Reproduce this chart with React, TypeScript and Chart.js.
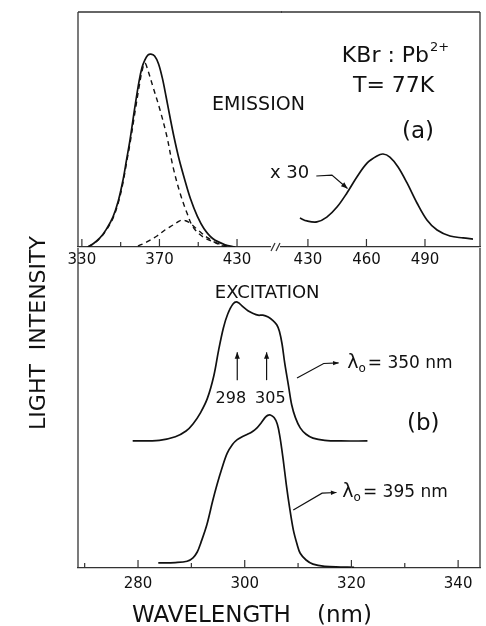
import React, { useEffect, useRef } from 'react';
import { Chart, registerables } from 'chart.js';

Chart.register(...registerables);

const FONT = "'DejaVu Sans', 'Liberation Sans', sans-serif";
const INK = '#111';
const FRAME = '#333';

// ---------- Panel (a): emission, wavelength (nm) vs relative intensity ----------
const EM_TOTAL_X = [333.1, 336, 339.3, 342.5, 346, 348.8, 351.2, 353, 354.8, 357.4, 359.5, 361, 362.5, 364, 365.6, 367.5, 369.5, 371.5, 373.5, 375.5, 377.5, 380, 383, 386, 389.5, 393, 397.6, 403.8, 409];
const EM_TOTAL_Y = [0, 1.8, 4.7, 9, 15.5, 24, 34.7, 45, 55.4, 73, 86, 93, 97, 99.4, 100, 99, 95, 87.5, 77.5, 67, 57, 46, 35, 25, 16, 9.5, 4.3, 1.2, 0];

const EM_BAND1_X = [333.1, 336, 339.3, 342.5, 346, 348.8, 351.2, 353, 354.8, 357.4, 359.5, 361, 362.5, 364, 366.7, 370.3, 373.9, 377, 380.6, 384.2, 387.3, 392.5, 399.7, 404.8];
const EM_BAND1_Y = [0, 1.7, 4.5, 8.6, 14.8, 23, 33.3, 43.5, 53.5, 70, 83, 91, 95.3, 91.7, 82.9, 71, 57, 41.5, 28, 17.6, 10.4, 5.2, 2, 0.5];

const EM_BAND2_X = [358.9, 363.5, 368.7, 372.8, 377, 379.5, 381.6, 383.5, 385.7, 389.9, 395, 401.2, 404.8];
const EM_BAND2_Y = [0.5, 2.6, 5.7, 8.8, 11.4, 13, 14, 13.6, 12.4, 8.8, 4.7, 1, 0];

const EM_X30_X = [425.9, 429.5, 434.6, 439.7, 444.9, 450, 455.1, 460.3, 465.4, 468.5, 472, 476.2, 480.8, 485.9, 491, 496.2, 502.8, 509.5, 514.6];
const EM_X30_Y = [15, 13.5, 13, 15.5, 20.7, 28, 36.3, 43.5, 47.2, 48.2, 46.6, 41.5, 33.2, 22.8, 14, 8.8, 5.7, 4.7, 4.1];

const EM_LEFT_TICKS = [330, 350, 370, 390, 410];
const EM_LEFT_TICK_LABELS = ['330', '', '370', '', '430'];
const EM_RIGHT_TICKS = [430, 460, 490];
const EM_RIGHT_TICK_LABELS = ['430', '460', '490'];

// ---------- Panel (b): excitation spectra ----------
const EX_350_X = [279, 284, 287, 289, 290.3, 291.7, 293, 294.2, 295.1, 296, 296.8, 297.8, 298.6, 299.7, 300.6, 301.4, 302.5, 303.4, 304.4, 305.3, 306, 306.5, 307, 307.5, 308.2, 308.8, 309.5, 310.4, 311.5, 312.8, 315, 318, 323];
const EX_350_Y = [39.7, 39.9, 41, 42.8, 45, 48.5, 53, 60, 68, 75, 79.3, 82.5, 83.1, 81.6, 80.4, 79.7, 79, 79, 78.4, 77.3, 76, 74, 70, 64, 57, 51, 47, 43.8, 41.8, 40.6, 39.9, 39.7, 39.7];

const EX_395_X = [283.8, 287, 289.2, 290.3, 291.1, 291.8, 292.9, 294, 294.8, 295.7, 296.7, 297.7, 298.6, 299.6, 300.5, 301.4, 302.3, 303.1, 303.8, 304.3, 304.8, 305.5, 306.1, 306.6, 307.2, 307.8, 308.4, 309.1, 309.8, 310.4, 311.5, 312.8, 315, 318, 320.5];
const EX_395_Y = [1.6, 1.7, 2.1, 3.2, 5, 8, 13.5, 21, 26, 31, 35.8, 38.6, 40.1, 41.1, 41.8, 42.6, 43.8, 45.4, 47, 47.7, 47.8, 47, 45, 41, 34, 26, 19, 12, 7.5, 4.6, 2.5, 1.2, 0.5, 0.3, 0.2];

const EX_TICKS = [270, 280, 290, 300, 310, 320, 330, 340];
const EX_TICK_LABELS = ['', '280', '', '300', '', '320', '', '340'];
const EX_PEAK_LABELS = ['298', '305'];
const EX_PEAK_LABEL_X = [297.4, 304.8];
const EX_PEAK_ARROW_X = [298.6, 304.1];

// ---------- helpers ----------
const pts = (xs: number[], ys: number[]) => xs.map((x, i) => ({ x, y: ys[i] }));

const lineDs = (data: any[], dash: number[] = [], width = 1.7) => ({
  data,
  borderColor: INK,
  borderWidth: width,
  borderDash: dash,
  pointRadius: 0,
  fill: false,
  tension: 0.35,
});

function seg(ctx: CanvasRenderingContext2D, x1: number, y1: number, x2: number, y2: number) {
  ctx.beginPath();
  ctx.moveTo(x1, y1);
  ctx.lineTo(x2, y2);
  ctx.stroke();
}

function text(ctx: CanvasRenderingContext2D, s: string, x: number, y: number, size: number, align: CanvasTextAlign = 'left') {
  ctx.font = `${size}px ${FONT}`;
  ctx.textAlign = align;
  ctx.textBaseline = 'alphabetic';
  ctx.fillStyle = INK;
  ctx.fillText(s, x, y);
}

function arrow(ctx: CanvasRenderingContext2D, p: [number, number][], head = 7) {
  ctx.strokeStyle = INK;
  ctx.fillStyle = INK;
  ctx.lineWidth = 1.2;
  ctx.beginPath();
  ctx.moveTo(p[0][0], p[0][1]);
  for (let i = 1; i < p.length; i++) ctx.lineTo(p[i][0], p[i][1]);
  ctx.stroke();
  const [x1, y1] = p[p.length - 2];
  const [x2, y2] = p[p.length - 1];
  const a = Math.atan2(y2 - y1, x2 - x1);
  ctx.beginPath();
  ctx.moveTo(x2, y2);
  ctx.lineTo(x2 - head * Math.cos(a - 0.38), y2 - head * Math.sin(a - 0.38));
  ctx.lineTo(x2 - head * Math.cos(a + 0.38), y2 - head * Math.sin(a + 0.38));
  ctx.closePath();
  ctx.fill();
}

function inwardTicks(ctx: CanvasRenderingContext2D, scale: any, ticks: number[], labels: string[], bottom: number) {
  ctx.strokeStyle = FRAME;
  ctx.lineWidth = 1.2;
  ticks.forEach((v, i) => {
    const x = scale.getPixelForValue(v);
    seg(ctx, x, bottom, x, bottom - (labels[i] ? 8 : 5));
  });
}

function xScale(min: number, max: number, ticks: number[], labels: string[], height: number, padding: number) {
  return {
    type: 'linear' as const,
    min,
    max,
    afterBuildTicks: (s: any) => {
      s.ticks = ticks.map((v) => ({ value: v }));
    },
    afterFit: (s: any) => {
      s.height = height;
    },
    grid: { display: false, drawTicks: false },
    border: { display: true, color: FRAME, width: 1.3 },
    ticks: {
      autoSkip: false,
      maxRotation: 0,
      padding,
      color: INK,
      font: { family: FONT, size: 15 },
      callback: (v: any) => {
        const i = ticks.indexOf(Number(v));
        return i >= 0 ? labels[i] : '';
      },
    },
  };
}

const BASE_OPTIONS = {
  animation: false as const,
  responsive: false,
  maintainAspectRatio: false,
  devicePixelRatio: 1,
  events: [] as any[],
  plugins: { legend: { display: false }, tooltip: { enabled: false }, title: { display: false } },
};

const EM_Y_MAX = 121.8;

// ---------- plugins ----------
const panelALeftPlugin = {
  id: 'panelALeft',
  afterDraw(chart: any) {
    const { ctx, chartArea: a, scales } = chart;
    const x = scales.x;
    const y = scales.y;
    ctx.save();
    ctx.strokeStyle = FRAME;
    ctx.lineWidth = 1.3;
    seg(ctx, a.left, a.top, a.left, a.bottom);
    seg(ctx, a.left, a.top, a.right + 12, a.top);
    // axis break
    ctx.lineWidth = 1.2;
    seg(ctx, a.right + 1, a.bottom + 4, a.right + 5, a.bottom - 4);
    seg(ctx, a.right + 6, a.bottom + 4, a.right + 10, a.bottom - 4);
    inwardTicks(ctx, x, EM_LEFT_TICKS, EM_LEFT_TICK_LABELS, a.bottom);
    text(ctx, 'EMISSION', x.getPixelForValue(397.1), y.getPixelForValue(71), 19);
    ctx.restore();
  },
};

const panelARightPlugin = {
  id: 'panelARight',
  afterDraw(chart: any) {
    const { ctx, chartArea: a, scales } = chart;
    const x = scales.x;
    const y = scales.y;
    ctx.save();
    ctx.strokeStyle = FRAME;
    ctx.lineWidth = 1.3;
    seg(ctx, a.left, a.top, a.right, a.top);
    seg(ctx, a.right, a.top, a.right, a.bottom);
    inwardTicks(ctx, x, EM_RIGHT_TICKS, EM_RIGHT_TICK_LABELS, a.bottom);

    // KBr : Pb2+
    const kx = x.getPixelForValue(447.4);
    const ky = y.getPixelForValue(95.9);
    text(ctx, 'KBr : Pb', kx, ky, 22);
    ctx.font = `22px ${FONT}`;
    const w = ctx.measureText('KBr : Pb').width;
    text(ctx, '2+', kx + w + 1, ky - 11, 13);
    text(ctx, 'T= 77K', x.getPixelForValue(453.1), y.getPixelForValue(80.3), 22);
    text(ctx, '(a)', x.getPixelForValue(478.2), y.getPixelForValue(56.5), 23);

    // x 30 label with arrow onto the curve
    text(ctx, 'x 30', x.getPixelForValue(410.5), y.getPixelForValue(35.8), 18);
    arrow(ctx, [
      [x.getPixelForValue(434.3), y.getPixelForValue(36.8)],
      [x.getPixelForValue(442.3), y.getPixelForValue(37.3)],
      [x.getPixelForValue(450.3), y.getPixelForValue(30.3)],
    ]);
    ctx.restore();
  },
};

function lambdaLabel(ctx: CanvasRenderingContext2D, s: string, x0: number, y0: number) {
  text(ctx, 'λ', x0, y0, 19);
  ctx.font = `19px ${FONT}`;
  const w1 = ctx.measureText('λ').width;
  text(ctx, 'o', x0 + w1, y0 + 4, 12);
  ctx.font = `12px ${FONT}`;
  const w2 = ctx.measureText('o').width;
  text(ctx, s, x0 + w1 + w2 + 2, y0, 17);
}

const panelBPlugin = {
  id: 'panelB',
  afterDraw(chart: any) {
    const { ctx, chartArea: a, scales } = chart;
    const x = scales.x;
    const y = scales.y;
    ctx.save();
    ctx.strokeStyle = FRAME;
    ctx.lineWidth = 1.3;
    seg(ctx, a.left, a.top, a.left, a.bottom);
    seg(ctx, a.right, a.top, a.right, a.bottom);
    inwardTicks(ctx, x, EX_TICKS, EX_TICK_LABELS, a.bottom);

    text(ctx, 'EXCITATION', x.getPixelForValue(294.4), y.getPixelForValue(84.4), 18);

    EX_PEAK_ARROW_X.forEach((v) => {
      arrow(ctx, [
        [x.getPixelForValue(v), y.getPixelForValue(58.7)],
        [x.getPixelForValue(v), y.getPixelForValue(67.4)],
      ], 7);
    });
    EX_PEAK_LABELS.forEach((s, i) => {
      text(ctx, s, x.getPixelForValue(EX_PEAK_LABEL_X[i]), y.getPixelForValue(51.6), 16, 'center');
    });

    arrow(ctx, [
      [x.getPixelForValue(309.8), y.getPixelForValue(59.4)],
      [x.getPixelForValue(314.8), y.getPixelForValue(63.9)],
      [x.getPixelForValue(317.6), y.getPixelForValue(64.1)],
    ], 6);
    lambdaLabel(ctx, '= 350 nm', x.getPixelForValue(319.2), y.getPixelForValue(62.5));

    arrow(ctx, [
      [x.getPixelForValue(309.1), y.getPixelForValue(18.1)],
      [x.getPixelForValue(314.5), y.getPixelForValue(23.4)],
      [x.getPixelForValue(317.2), y.getPixelForValue(23.6)],
    ], 6);
    lambdaLabel(ctx, '= 395 nm', x.getPixelForValue(318.3), y.getPixelForValue(22.2));

    text(ctx, '(b)', x.getPixelForValue(330.4), y.getPixelForValue(43.1), 23);

    // axis titles
    text(ctx, 'WAVELENGTH', a.left + 54, a.bottom + 54, 23);
    text(ctx, '(nm)', a.left + 239, a.bottom + 54, 23);
    ctx.translate(a.left - 39, a.top + 85);
    ctx.rotate(-Math.PI / 2);
    ctx.font = `22px ${FONT}`;
    ctx.textAlign = 'center';
    ctx.textBaseline = 'middle';
    ctx.fillStyle = INK;
    ctx.fillText('LIGHT  INTENSITY', 0, 0);
    ctx.restore();
  },
};

export default function App() {
  const refAL = useRef<HTMLCanvasElement>(null);
  const refAR = useRef<HTMLCanvasElement>(null);
  const refB = useRef<HTMLCanvasElement>(null);

  useEffect(() => {
    const chartAL = new Chart(refAL.current!, {
      type: 'line',
      data: {
        datasets: [
          lineDs(pts(EM_TOTAL_X, EM_TOTAL_Y)),
          lineDs(pts(EM_BAND1_X, EM_BAND1_Y), [5, 4], 1.4),
          lineDs(pts(EM_BAND2_X, EM_BAND2_Y), [5, 4], 1.4),
        ],
      },
      options: {
        ...BASE_OPTIONS,
        layout: { padding: { left: 78, top: 12, right: 216, bottom: 0 } },
        scales: {
          x: xScale(328, 427, EM_LEFT_TICKS, EM_LEFT_TICK_LABELS, 28, 4),
          y: { display: false, min: 0, max: EM_Y_MAX },
        },
      } as any,
      plugins: [panelALeftPlugin],
    });

    const chartAR = new Chart(refAR.current!, {
      type: 'line',
      data: { datasets: [lineDs(pts(EM_X30_X, EM_X30_Y))] },
      options: {
        ...BASE_OPTIONS,
        layout: { padding: { left: 281, top: 12, right: 6, bottom: 0 } },
        scales: {
          x: xScale(416.2, 518.2, EM_RIGHT_TICKS, EM_RIGHT_TICK_LABELS, 28, 4),
          y: { display: false, min: 0, max: EM_Y_MAX },
        },
      } as any,
      plugins: [panelARightPlugin],
    });

    const chartB = new Chart(refB.current!, {
      type: 'line',
      data: {
        datasets: [lineDs(pts(EX_350_X, EX_350_Y)), lineDs(pts(EX_395_X, EX_395_Y))],
      },
      options: {
        ...BASE_OPTIONS,
        layout: { padding: { left: 78, top: 28, right: 6, bottom: 0 } },
        scales: {
          x: xScale(268.75, 344.1, EX_TICKS, EX_TICK_LABELS, 58, 7),
          y: { display: false, min: 0, max: 100 },
        },
      } as any,
      plugins: [panelBPlugin],
    });

    return () => {
      chartAL.destroy();
      chartAR.destroy();
      chartB.destroy();
    };
  }, []);

  const cv = (top: number, h: number): React.CSSProperties => ({
    position: 'absolute',
    left: 0,
    top,
    width: 486,
    height: h,
  });

  return (
    <div style={{ position: 'fixed', left: 0, top: 0, width: 486, height: 626, background: '#fff' }}>
      <canvas ref={refB} width={486} height={406} style={cv(220, 406)} />
      <canvas ref={refAL} width={486} height={275} style={cv(0, 275)} />
      <canvas ref={refAR} width={486} height={275} style={cv(0, 275)} />
    </div>
  );
}
